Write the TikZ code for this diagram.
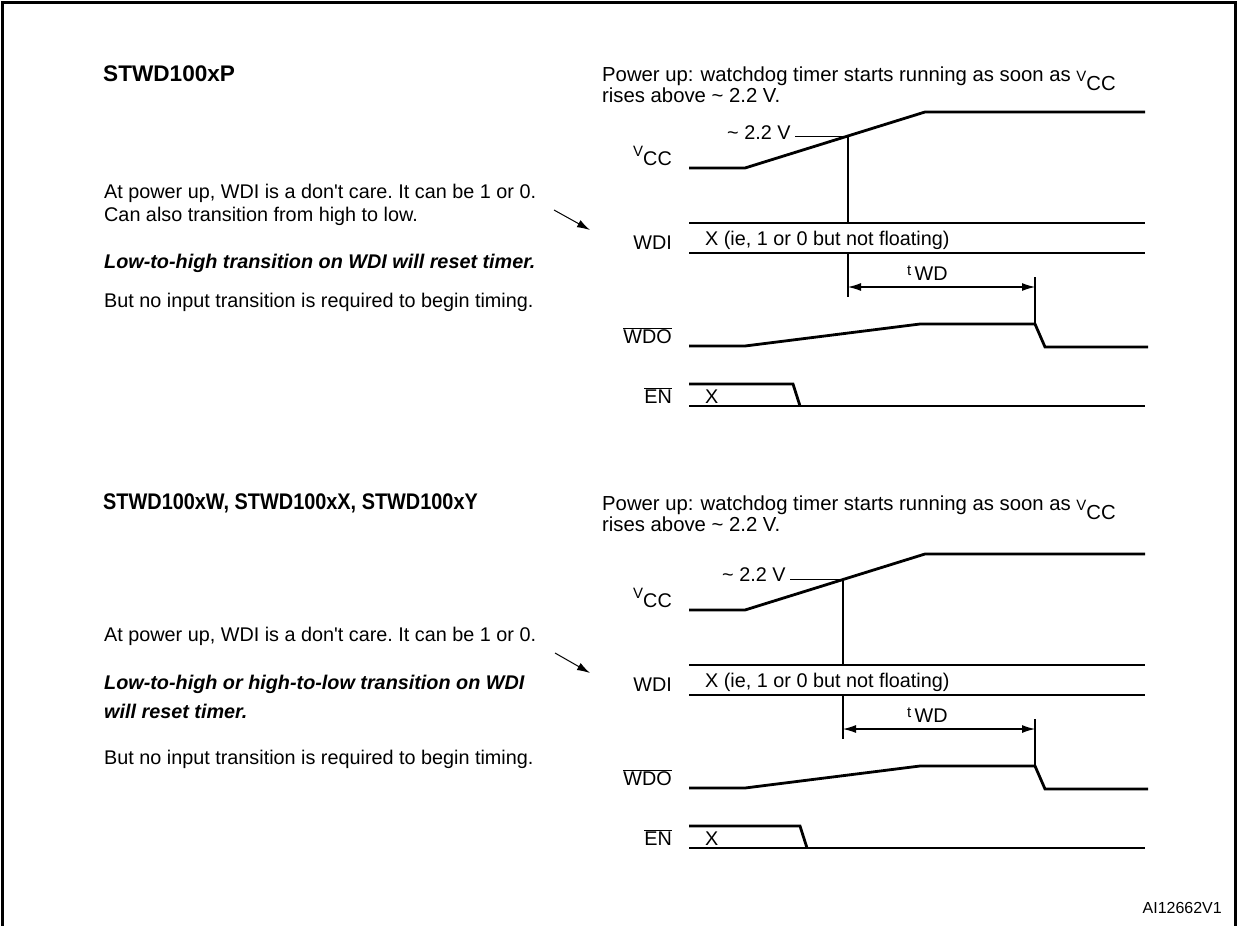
\documentclass[tikz,border=0pt]{standalone}
\usepackage{fontspec}
\setmainfont{Liberation Sans}[Ligatures=TeXOff]
\usetikzlibrary{arrows.meta}
\newcommand\myvcc{{\fontsize{15}{15}\selectfont V}\raisebox{-0.45em}{CC}}
\newcommand\mylvcc{{\fontsize{15}{15}\selectfont V}\raisebox{-0.5em}{CC}}
\newcommand\mytwd{{\fontsize{15}{15}\selectfont t}\,\raisebox{-0.3em}{WD}}
\newcommand\ovl[1]{$\overline{\hbox{#1}}$}
\begin{document}
\frenchspacing
\begin{tikzpicture}[x=1pt,y=-1pt,
  sig/.style={line width=2.8pt, line join=miter},
  thinln/.style={line width=1.1pt},
  body/.style={font=\fontsize{19.8}{23}\selectfont, inner sep=0pt, anchor=base west},
  rbody/.style={font=\fontsize{20.3}{23}\selectfont, inner sep=0pt, anchor=base west},
  bodyb/.style={font=\fontsize{19.8}{23}\selectfont\bfseries\itshape, inner sep=0pt, anchor=base west},
  ttl/.style={font=\fontsize{22.6}{26}\selectfont\bfseries, inner sep=0pt, anchor=base west},
  lab/.style={font=\fontsize{19.8}{23}\selectfont, inner sep=0pt, anchor=base east},
  dim/.style={thinln, {Latex[length=13pt,width=8pt]}-{Latex[length=13pt,width=8pt]}},
  ptr/.style={line width=1pt, -{Latex[length=13pt,width=8pt]}},
]
\useasboundingbox (0,0) rectangle (1237,926);
\draw[line width=3pt] (2,930) -- (2,2) -- (1235,2) -- (1235,930);

% ---------------- top panel ----------------
\node[ttl] (t1) at (103,81) {STWD100xP};
\node[rbody] (p1a) at (602,81) {Power up:\hspace{0.35em}watchdog timer starts running as soon as \myvcc};
\node[rbody] (p1b) at (602,102) {rises above \textasciitilde{} 2.2 V.};
\node[body] (l1a) at (104,198) {At power up, WDI is a don't care. It can be 1 or 0.};
\node[body] (l1b) at (104,221) {Can also transition from high to low.};
\node[bodyb] (l1c) at (104,268) {Low-to-high transition on WDI will reset timer.};
\node[body] (l1d) at (104,307) {But no input transition is required to begin timing.};
\coordinate (a1s) at (554,210);
\coordinate (a1e) at (590,230);
\draw[ptr] (a1s) -- (a1e);

\node[lab] (vcc1) at (672,156) {\mylvcc};
\node[lab] (wdi1) at (672,249) {WDI};
\node[lab] (wdo1) at (672,343) {\ovl{WDO}};
\node[lab] (en1) at (672,403) {\ovl{EN}};

\draw[sig] (689,168) -- (745,168) -- (925,112) -- (1145,112);
\node[body] (th1) at (727,139) {\textasciitilde{} 2.2 V};
\coordinate (c1a) at (795,136.5);
\coordinate (c1b) at (848,136.5);
\coordinate (c1c) at (848,223);
\coordinate (c1d) at (848,253);
\coordinate (c1e) at (848,297);
\draw[thinln] (c1a) -- (c1b) -- (c1c);
\draw[thinln] (c1d) -- (c1e);

\draw[sig] (689,223) -- (1145,223);
\draw[sig] (689,253) -- (1145,253);
\node[body] (x1) at (705,245) {X (ie, 1 or 0 but not floating)};

\node[body] (tw1) at (907,275) {\mytwd};
\coordinate (d1a) at (848,287);
\coordinate (d1b) at (1035,287);
\draw[dim] (d1a) -- (d1b);
\coordinate (e1a) at (1035,277);
\coordinate (e1b) at (1035,324);
\draw[thinln] (e1a) -- (e1b);

\draw[sig] (689,346) -- (745,346) -- (920,324) -- (1035,324) -- (1045,347) -- (1148,347);

\draw[sig] (689,384) -- (793,384) -- (800,406);
\draw[sig] (689,406) -- (1145,406);
\node[body] (xe1) at (705,403) {X};

% ---------------- bottom panel ----------------
\node[ttl] (t2) at (103,509) {\scalebox{0.88}[1]{STWD100xW, STWD100xX, STWD100xY}};
\node[rbody] (p2a) at (602,510) {Power up:\hspace{0.35em}watchdog timer starts running as soon as \myvcc};
\node[rbody] (p2b) at (602,531) {rises above \textasciitilde{} 2.2 V.};
\node[body] (l2a) at (104,641) {At power up, WDI is a don't care. It can be 1 or 0.};
\node[bodyb] (l2b) at (104,689) {Low-to-high or high-to-low transition on WDI};
\node[bodyb] (l2c) at (104,718) {will reset timer.};
\node[body] (l2d) at (104,764) {But no input transition is required to begin timing.};
\coordinate (a2s) at (555,653);
\coordinate (a2e) at (590,673);
\draw[ptr] (a2s) -- (a2e);

\begin{scope}[yshift=-442pt]
\node[lab] (vcc2) at (672,156) {\mylvcc};
\node[lab] (wdi2) at (672,249) {WDI};
\node[lab] (wdo2) at (672,343) {\ovl{WDO}};
\node[lab] (en2) at (672,403) {\ovl{EN}};

\draw[sig] (689,168) -- (745,168) -- (925,112) -- (1145,112);
\node[body] (th2) at (722,139) {\textasciitilde{} 2.2 V};
\coordinate (c2a) at (790,137.5);
\coordinate (c2b) at (843,137.5);
\coordinate (c2c) at (843,223);
\coordinate (c2d) at (843,253);
\coordinate (c2e) at (843,297);
\draw[thinln] (c2a) -- (c2b) -- (c2c);
\draw[thinln] (c2d) -- (c2e);

\draw[sig] (689,223) -- (1145,223);
\draw[sig] (689,253) -- (1145,253);
\node[body] (x2) at (705,245) {X (ie, 1 or 0 but not floating)};

\node[body] (tw2) at (907,275) {\mytwd};
\coordinate (d2a) at (843,287);
\coordinate (d2b) at (1035,287);
\draw[dim] (d2a) -- (d2b);
\coordinate (e2a) at (1035,277);
\coordinate (e2b) at (1035,324);
\draw[thinln] (e2a) -- (e2b);

\draw[sig] (689,346) -- (745,346) -- (920,324) -- (1035,324) -- (1045,347) -- (1148,347);

\draw[sig] (689,384) -- (800,384) -- (807,406);
\draw[sig] (689,406) -- (1145,406);
\node[body] (xe2) at (705,403) {X};
\end{scope}

\node[font=\fontsize{16}{16}\selectfont, inner sep=0pt, anchor=base east] (ai) at (1222,913) {AI12662V1};
\end{tikzpicture}
\end{document}
